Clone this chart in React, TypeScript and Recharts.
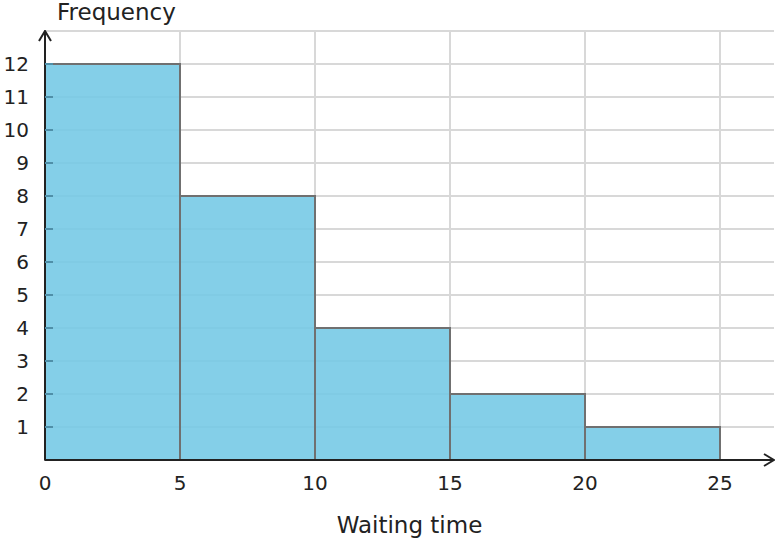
import {
  ComposedChart,
  XAxis,
  YAxis,
  CartesianGrid,
  ReferenceArea,
} from "recharts";

// histogram bins: waiting time classes and their frequencies
const binStart = [0, 5, 10, 15, 20];
const binEnd = [5, 10, 15, 20, 25];
const frequency = [12, 8, 4, 2, 1];

const xTicks = [0, 5, 10, 15, 20, 25];
const yTicks = [1, 2, 3, 4, 5, 6, 7, 8, 9, 10, 11, 12, 13];

const bins = binStart.map((start, i) => ({
  start,
  end: binEnd[i],
  freq: frequency[i],
}));

const FONT = "'DejaVu Sans', sans-serif";
const TEXT = "#222";

function YTick(props: any) {
  const { x, y, payload } = props;
  // the top gridline (13) has no label
  if (payload.value === 13) return <g />;
  return (
    <g>
      <line x1={x + 16} x2={x + 24} y1={y} y2={y} stroke="#4f8fa8" strokeWidth={2} />
      <text
        x={x}
        y={y}
        dy="0.36em"
        textAnchor="end"
        fill={TEXT}
        fontSize={20}
        fontFamily={FONT}
      >
        {payload.value}
      </text>
    </g>
  );
}

export default function App() {
  return (
    <div style={{ width: 777, height: 541 }}>
      <style>{"body{margin:0}"}</style>
      <svg width={0} height={0} style={{ position: "absolute" }}>
        <defs>
          <marker
            id="axisArrow"
            viewBox="0 0 12 14"
            refX={11}
            refY={7}
            markerWidth={12}
            markerHeight={14}
            markerUnits="userSpaceOnUse"
            orient="auto-start-reverse"
          >
            <path d="M1,1 L11,7 L1,13" fill="none" stroke={TEXT} strokeWidth={2} />
          </marker>
        </defs>
      </svg>
      <ComposedChart
        width={777}
        height={541}
        data={bins}
        margin={{ top: 31, right: 3, left: 0, bottom: 0 }}
      >
        <CartesianGrid
          stroke="#d8d8d8"
          strokeWidth={2}
          verticalValues={[5, 10, 15, 20, 25]}
        />
        <XAxis
          dataKey="start"
          type="number"
          domain={[0, 27]}
          ticks={xTicks}
          allowDataOverflow
          height={81}
          tickLine={false}
          tickSize={0}
          tickMargin={16}
          tick={{ fill: TEXT, fontSize: 20, fontFamily: FONT }}
          axisLine={{ stroke: TEXT, strokeWidth: 2, markerEnd: "url(#axisArrow)" }}
          label={{
            value: "Waiting time",
            position: "insideBottom",
            offset: 8,
            fill: TEXT,
            fontSize: 23,
            fontFamily: FONT,
          }}
        />
        <YAxis
          type="number"
          domain={[0, 13]}
          ticks={yTicks}
          allowDataOverflow
          width={45}
          tickLine={false}
          tickSize={0}
          tickMargin={16}
          tick={<YTick />}
          axisLine={{ stroke: TEXT, strokeWidth: 2, markerStart: "url(#axisArrow)" }}
          label={{
            content: () => (
              <text x={57} y={20} fill={TEXT} fontSize={23} fontFamily={FONT}>
                Frequency
              </text>
            ),
          }}
        />
        {bins.map((b) => (
          <ReferenceArea
            key={b.start}
            x1={b.start}
            x2={b.end}
            y1={0}
            y2={b.freq}
            fill="#77cae6"
            fillOpacity={0.9}
            stroke="#707070"
            strokeWidth={2}
            strokeOpacity={1}
          />
        ))}
      </ComposedChart>
    </div>
  );
}
